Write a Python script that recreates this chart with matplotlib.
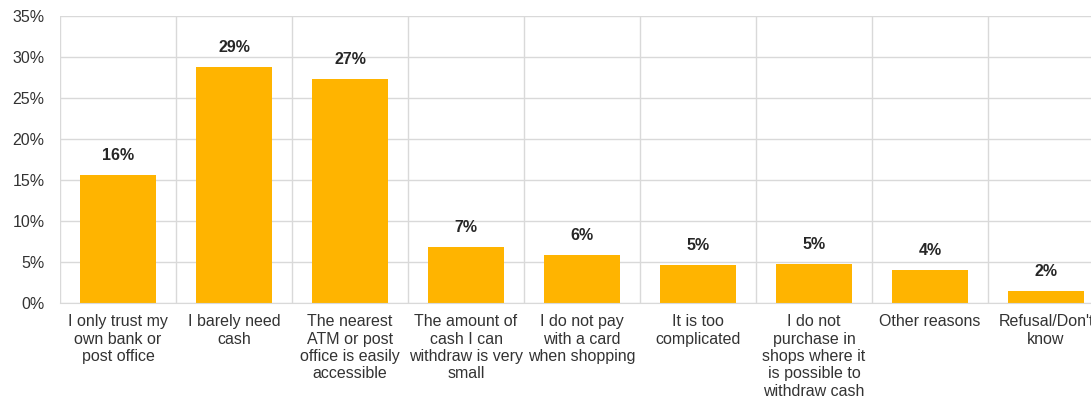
import numpy as np
import matplotlib
matplotlib.use("Agg")
from matplotlib import pyplot as plt, ticker as mticker

plt.rcParams['font.family'] = ['Liberation Sans', 'DejaVu Sans']

categories = ['I only trust my\nown bank or\npost office',
              'I barely need\ncash',
              'The nearest\nATM or post\noffice is easily\naccessible',
              'The amount of\ncash I can\nwithdraw is very\nsmall',
              'I do not pay\nwith a card\nwhen shopping',
              'It is too\ncomplicated',
              'I do not\npurchase in\nshops where it\nis possible to\nwithdraw cash',
              'Other reasons',
              "Refusal/Don't\nknow"]
values = [15.6, 28.8, 27.3, 6.8, 5.9, 4.6, 4.8, 4.0, 1.5]
value_labels = ['16%', '29%', '27%', '7%', '6%', '5%', '5%', '4%', '2%']
yticks = [0, 5, 10, 15, 20, 25, 30, 35]

text_col = '#333333'
grid_col = '#d9d9d9'

fig = plt.figure(figsize=(10.91, 4.05), dpi=100)
# the plot area runs past the right edge of the picture, as in the original
ax = fig.add_axes([60/1091, 1 - 303/405, 1044/1091, 287/405])

x = np.arange(len(categories))
ax.bar(x, values, width=0.66, color='#ffb400', zorder=2)

for xi, v, lab in zip(x, values, value_labels):
    ax.annotate(lab, (xi, v), xytext=(0, 14), textcoords='offset points',
                ha='center', va='center', fontsize=11.5, fontweight='bold', color='#262626')

ax.set_xlim(-0.5, len(categories) - 0.5)
ax.set_ylim(0, 35)
ax.set_yticks(yticks)
ax.yaxis.set_major_formatter(mticker.FuncFormatter(lambda v, p: f'{v:.0f}%'))
ax.set_xticks(x)
ax.set_xticklabels(categories, fontsize=11.5, color=text_col, linespacing=1.2)
ax.set_xticks(np.arange(-0.5, len(categories), 1), minor=True)
ax.tick_params(axis='y', length=0, pad=11, labelsize=11.5, labelcolor=text_col)
ax.tick_params(axis='x', which='both', length=0, pad=8)

ax.grid(True, axis='y', color=grid_col, linewidth=1, zorder=0)
ax.grid(True, axis='x', which='minor', color=grid_col, linewidth=1, zorder=0)
ax.grid(False, axis='x', which='major')
for s in ['top', 'right', 'left']:
    ax.spines[s].set_visible(False)
ax.spines['bottom'].set_color(grid_col)
ax.set_axisbelow(True)

fig.savefig('out.png', dpi=100)
